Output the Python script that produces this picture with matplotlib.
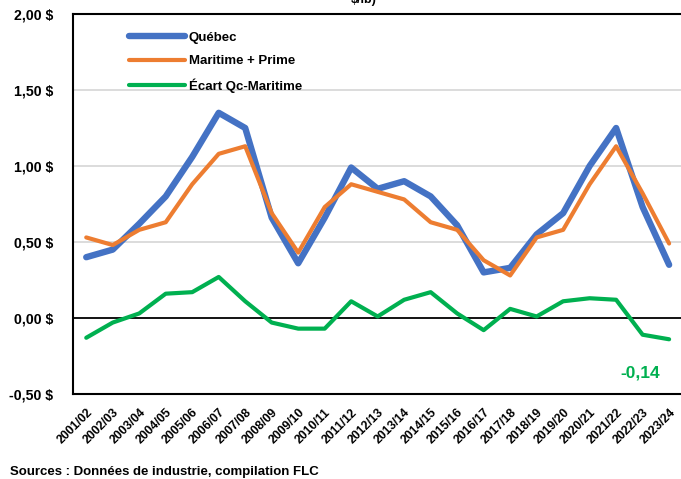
import numpy as np, matplotlib
matplotlib.use('Agg')
import matplotlib.pyplot as plt

plt.rcParams['font.family'] = ['Liberation Sans', 'DejaVu Sans']
plt.rcParams['font.weight'] = 'bold'

saisons = ['2001/02', '2002/03', '2003/04', '2004/05', '2005/06', '2006/07', '2007/08',
           '2008/09', '2009/10', '2010/11', '2011/12', '2012/13', '2013/14', '2014/15',
           '2015/16', '2016/17', '2017/18', '2018/19', '2019/20', '2020/21', '2021/22',
           '2022/23', '2023/24']
quebec = [0.40, 0.45, 0.62, 0.80, 1.06, 1.35, 1.25, 0.66, 0.36, 0.66, 0.99, 0.85, 0.90,
          0.80, 0.61, 0.30, 0.33, 0.55, 0.69, 1.00, 1.25, 0.73, 0.35]
maritime = [0.53, 0.48, 0.58, 0.63, 0.88, 1.08, 1.13, 0.69, 0.43, 0.73, 0.88, 0.83, 0.78,
            0.63, 0.58, 0.38, 0.28, 0.53, 0.58, 0.88, 1.13, 0.82, 0.49]
ecart = [-0.13, -0.03, 0.03, 0.16, 0.17, 0.27, 0.11, -0.03, -0.07, -0.07, 0.11, 0.01, 0.12,
         0.17, 0.03, -0.08, 0.06, 0.01, 0.11, 0.13, 0.12, -0.11, -0.14]
yticks = [-0.5, 0.0, 0.5, 1.0, 1.5, 2.0]

BLUE, ORANGE, GREEN = '#4472C4', '#ED7D31', '#00B050'

fig = plt.figure(figsize=(6.81, 4.79), dpi=100)
ax = fig.add_axes([73 / 681, 1 - 394 / 479, 1 - 73 / 681 + 0.002, 380 / 479])
x = np.arange(len(saisons))

for v in [0.5, 1.0, 1.5]:
    ax.axhline(v, color='#D9D9D9', lw=1.3, zorder=0)
ax.axhline(0, color='black', lw=1.3, zorder=1)

ax.plot(x, quebec, color=BLUE, lw=4.6, solid_capstyle='round', solid_joinstyle='round', label='Québec', zorder=3)
ax.plot(x, maritime, color=ORANGE, lw=3.0, solid_capstyle='round', solid_joinstyle='round', label='Maritime + Prime', zorder=4)
ax.plot(x, ecart, color=GREEN, lw=3.0, solid_capstyle='round', solid_joinstyle='round', label='Écart Qc-Maritime', zorder=4)

ax.set_xlim(-0.5, len(saisons) - 0.5)
ax.set_ylim(-0.5, 2.0)
ax.set_yticks(yticks)
ax.set_yticklabels([f'{v:.2f} $'.replace('.', ',') for v in yticks], fontsize=10.2, fontweight='bold')
ax.set_xticks(x)
ax.set_xticklabels(saisons, rotation=45, ha='right', rotation_mode='anchor', fontsize=8.8, fontweight='bold')
ax.tick_params(length=0, pad=14, axis='y')
ax.tick_params(length=0, pad=9, axis='x')
for s in ['left', 'top', 'bottom']:
    ax.spines[s].set_linewidth(1.5)
ax.spines['right'].set_visible(False)

ax.legend(loc='upper left', bbox_to_anchor=(0.073, 0.985), frameon=False,
          handlelength=4.2, handletextpad=0.3, labelspacing=0.85, prop={'weight': 'bold', 'size': 9.5})

ax.annotate('-0,14', xy=(x[-1], ecart[-1]), xytext=(x[-1] - 1.1, -0.36), color=GREEN,
            fontsize=12.5, fontweight='bold', ha='center', va='center')

fig.text(364 / 681, 1 - 3 / 479, '$/lb)', ha='center', va='baseline', fontsize=9, fontweight='bold')
fig.text(10 / 681, 1 - 475 / 479, 'Sources : Données de industrie, compilation FLC', fontsize=9.5, fontweight='bold')

fig.savefig('out.png', dpi=100)
